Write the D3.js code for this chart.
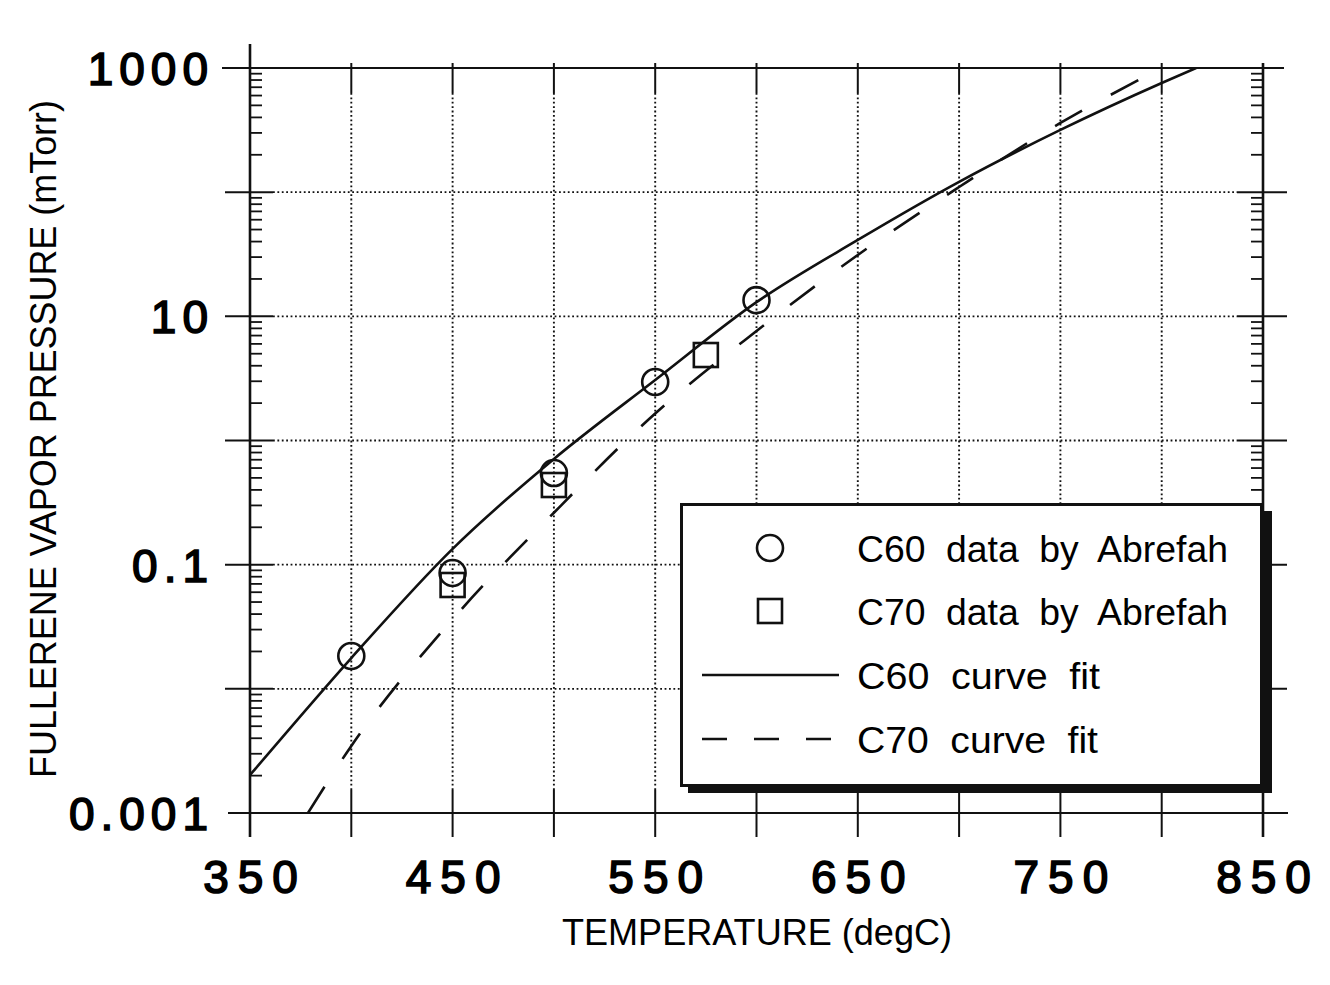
<!DOCTYPE html>
<html>
<head>
<meta charset="utf-8">
<script src="https://cdn.jsdelivr.net/npm/d3@7"></script>
<style>
  html, body { margin: 0; padding: 0; background: #fff; }
  svg { display: block; }
  text { font-family: "Liberation Sans", Arial, Helvetica, sans-serif; fill: #000; }
</style>
</head>
<body>
<svg id="chart" width="1330" height="985"></svg>
<script>
// ---------- data ----------
const c60FitT = [350, 400, 450, 500, 550, 600, 650, 700, 750, 800, 817];
const c60FitP = [0.00202, 0.0177, 0.134, 0.71, 3.07, 13.0, 41.2, 121, 317, 757, 1000];
const c70FitT = [378.6, 400, 450, 500, 550, 600, 650, 700, 750, 800];
const c70FitP = [0.001, 0.00347, 0.0363, 0.262, 1.65, 7.62, 31.2, 110, 361, 1000];
const c60DataT = [400, 450, 500, 550, 600];
const c60DataP = [0.0184, 0.0857, 0.547, 2.96, 13.5];
const c70DataT = [450, 500, 575];
const c70DataP = [0.0686, 0.438, 4.88];
const xTickLabels = [350, 450, 550, 650, 750, 850];
const xGridValues = [400, 450, 500, 550, 600, 650, 700, 750, 800];
const yTickLabels = [0.001, 0.1, 10, 1000];
const yTickText = ["0.001", "0.1", "10", "1000"];
const yGridValues = [0.01, 0.1, 1, 10, 100];
const yDecades = [0.001, 0.01, 0.1, 1, 10, 100, 1000];
const legendLabels = ["C60 data by Abrefah", "C70 data by Abrefah", "C60 curve fit", "C70 curve fit"];
const xTitle = "TEMPERATURE (degC)";
const yTitle = "FULLERENE VAPOR PRESSURE (mTorr)";

// ---------- layout ----------
const svg = d3.select("#chart");
const x = d3.scaleLinear().domain([350, 850]).range([250, 1263]);
const y = d3.scaleLog().domain([0.001, 1000]).range([813, 68]);
const X0 = x(350), X1 = x(850), Y0 = y(0.001), Y1 = y(1000);
const ink = "#111";

// minor tick values
const minorVals = [];
yDecades.slice(0, -1).forEach(d => { for (let k = 2; k <= 9; k++) minorVals.push(d * k); });

// grid
const grid = svg.append("g").attr("stroke", ink).attr("stroke-width", 1.9)
  .attr("stroke-dasharray", "1.8,2.6");
grid.selectAll("line.v").data(xGridValues).join("line")
  .attr("x1", d => x(d)).attr("x2", d => x(d)).attr("y1", Y1 + 25).attr("y2", Y0 - 23);
grid.selectAll("line.h").data(yGridValues).join("line")
  .attr("y1", d => y(d)).attr("y2", d => y(d)).attr("x1", X0 + 23).attr("x2", X1 - 26);

// frame
const frame = svg.append("g").attr("stroke", ink).attr("fill", "none");
frame.append("line").attr("x1", X0).attr("x2", X0).attr("y1", 44).attr("y2", 837).attr("stroke-width", 2.6);
frame.append("line").attr("x1", X1).attr("x2", X1).attr("y1", 63).attr("y2", 837).attr("stroke-width", 2.6);
frame.append("line").attr("x1", 222).attr("x2", 1284).attr("y1", Y1).attr("y2", Y1).attr("stroke-width", 2);
frame.append("line").attr("x1", 228).attr("x2", 1288).attr("y1", Y0).attr("y2", Y0).attr("stroke-width", 2);

// y major ticks (left & right), minor ticks
frame.selectAll("line.ymajL").data(yGridValues).join("line")
  .attr("x1", X0 - 25).attr("x2", X0 + 23).attr("y1", d => y(d)).attr("y2", d => y(d)).attr("stroke-width", 2);
frame.selectAll("line.ymajR").data(yGridValues).join("line")
  .attr("x1", X1 - 26).attr("x2", X1 + 24).attr("y1", d => y(d)).attr("y2", d => y(d)).attr("stroke-width", 2);
frame.selectAll("line.yminL").data(minorVals).join("line")
  .attr("x1", X0).attr("x2", X0 + 12).attr("y1", d => y(d)).attr("y2", d => y(d)).attr("stroke-width", 1.8);
frame.selectAll("line.yminR").data(minorVals).join("line")
  .attr("x1", X1 - 12).attr("x2", X1).attr("y1", d => y(d)).attr("y2", d => y(d)).attr("stroke-width", 1.8);
// x major ticks top & bottom
frame.selectAll("line.xb").data(xGridValues).join("line")
  .attr("x1", d => x(d)).attr("x2", d => x(d)).attr("y1", Y0 - 23).attr("y2", 837).attr("stroke-width", 2);
frame.selectAll("line.xt").data(xGridValues).join("line")
  .attr("x1", d => x(d)).attr("x2", d => x(d)).attr("y1", Y1 - 5).attr("y2", Y1 + 25).attr("stroke-width", 2);

// tick labels via d3 axes
const lsY = 6, lsX = 9;
const yAxis = d3.axisLeft(y).tickValues(yTickLabels)
  .tickFormat((d, i) => yTickText[i]).tickSize(0).tickPadding(0);
const gy = svg.append("g").attr("transform", `translate(${X0 - 42 + lsY},0)`).call(yAxis);
gy.select(".domain").remove();
gy.selectAll("text").attr("font-size", 46).attr("font-weight", "normal")
  .attr("stroke", "#000").attr("stroke-width", 1.6)
  .style("letter-spacing", lsY + "px").attr("dy", "0.36em");

const xAxis = d3.axisBottom(x).tickValues(xTickLabels).tickFormat(d3.format("d")).tickSize(0).tickPadding(0);
const gx = svg.append("g").attr("transform", `translate(${lsX / 2},${Y0 + 47})`).call(xAxis);
gx.select(".domain").remove();
gx.selectAll("text").attr("font-size", 46).attr("font-weight", "normal")
  .attr("stroke", "#000").attr("stroke-width", 1.6)
  .style("letter-spacing", lsX + "px").attr("dy", "0.71em");

// axis titles
svg.append("text").attr("x", 757).attr("y", 945).attr("text-anchor", "middle")
  .attr("font-size", 36).attr("textLength", 390).attr("lengthAdjust", "spacingAndGlyphs").text(xTitle);
svg.append("text").attr("transform", "translate(56,439) rotate(-90)").attr("text-anchor", "middle")
  .attr("font-size", 36).attr("textLength", 678).attr("lengthAdjust", "spacingAndGlyphs").text(yTitle);

// clip
svg.append("clipPath").attr("id", "plot").append("rect")
  .attr("x", X0).attr("y", Y1).attr("width", X1 - X0).attr("height", Y0 - Y1);

const line = d3.line().x(d => x(d[0])).y(d => y(d[1])).curve(d3.curveMonotoneX);
const curves = svg.append("g").attr("clip-path", "url(#plot)").attr("fill", "none").attr("stroke", ink).attr("stroke-width", 2.6);
curves.append("path").attr("d", line(d3.zip(c60FitT, c60FitP)));
curves.append("path").attr("d", line(d3.zip(c70FitT, c70FitP))).attr("stroke-dasharray", "31,33");

// markers
const marks = svg.append("g").attr("fill", "none").attr("stroke", ink).attr("stroke-width", 2.6);
marks.selectAll("circle").data(d3.zip(c60DataT, c60DataP)).join("circle")
  .attr("cx", d => x(d[0])).attr("cy", d => y(d[1])).attr("r", 13);
marks.selectAll("rect").data(d3.zip(c70DataT, c70DataP)).join("rect")
  .attr("x", d => x(d[0]) - 12).attr("y", d => y(d[1]) - 12).attr("width", 24).attr("height", 24);

// legend
const lg = svg.append("g");
lg.append("rect").attr("x", 688).attr("y", 511).attr("width", 584).attr("height", 282).attr("fill", ink);
lg.append("rect").attr("x", 681.5).attr("y", 504.5).attr("width", 580).attr("height", 281)
  .attr("fill", "#fff").attr("stroke", ink).attr("stroke-width", 3);
const rowsY = [548, 611, 675, 739];
lg.append("circle").attr("cx", 770).attr("cy", rowsY[0]).attr("r", 13).attr("fill", "none").attr("stroke", ink).attr("stroke-width", 2.6);
lg.append("rect").attr("x", 758).attr("y", rowsY[1] - 12).attr("width", 24).attr("height", 24).attr("fill", "none").attr("stroke", ink).attr("stroke-width", 2.6);
lg.append("line").attr("x1", 702).attr("x2", 839).attr("y1", rowsY[2]).attr("y2", rowsY[2]).attr("stroke", ink).attr("stroke-width", 2.4);
lg.append("line").attr("x1", 702).attr("x2", 834).attr("y1", rowsY[3]).attr("y2", rowsY[3]).attr("stroke", ink).attr("stroke-width", 2.4).attr("stroke-dasharray", "25,27");
const lw = [371, 371, 243, 241];
lg.selectAll("text").data(legendLabels).join("text")
  .attr("x", 857).attr("y", (d, i) => rowsY[i] + 14)
  .attr("font-size", 37).style("word-spacing", "10px")
  .attr("textLength", (d, i) => lw[i]).attr("lengthAdjust", "spacingAndGlyphs")
  .text(d => d);
</script>
</body>
</html>
